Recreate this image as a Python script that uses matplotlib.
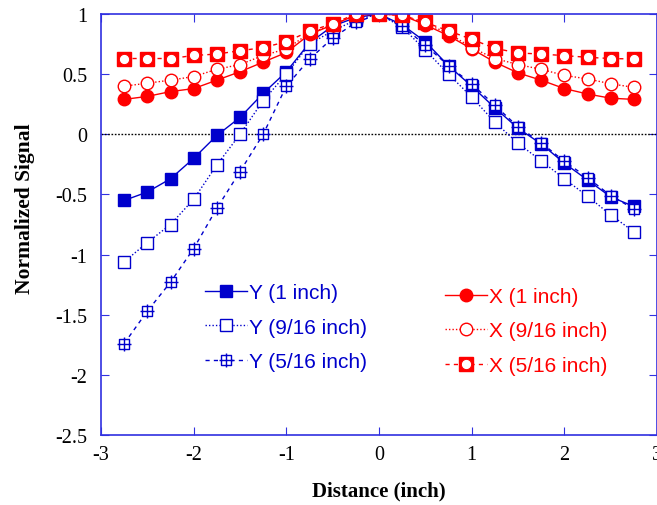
import numpy as np
import matplotlib
matplotlib.use('Agg')
import matplotlib.pyplot as plt
from matplotlib.path import Path

plt.rcParams['axes.unicode_minus'] = False

# positions along the sensor (inch)
dist = [-2.75, -2.5, -2.25, -2.0, -1.75, -1.5, -1.25, -1.0, -0.75, -0.5, -0.25, 0.0,
        0.25, 0.5, 0.75, 1.0, 1.25, 1.5, 1.75, 2.0, 2.25, 2.5, 2.75]

y_1in = [-0.55, -0.48, -0.37, -0.20, -0.01, 0.14, 0.34, 0.52, 0.76, 0.90, 0.97, 1.0,
         0.91, 0.77, 0.57, 0.40, 0.22, 0.05, -0.08, -0.24, -0.38, -0.52, -0.60]
y_9_16 = [-1.06, -0.90, -0.75, -0.54, -0.255, 0.0, 0.28, 0.50, 0.75, 0.86, 0.95, 1.0,
          0.89, 0.70, 0.50, 0.31, 0.10, -0.075, -0.22, -0.37, -0.515, -0.67, -0.81]
y_5_16 = [-1.74, -1.47, -1.23, -0.95, -0.615, -0.31, 0.0, 0.40, 0.625, 0.80, 0.93, 1.0,
          0.90, 0.74, 0.57, 0.42, 0.24, 0.063, -0.07, -0.225, -0.36, -0.51, -0.62]

x_1in = [0.29, 0.315, 0.355, 0.38, 0.45, 0.52, 0.60, 0.68, 0.83, 0.91, 0.99, 1.0,
         0.99, 0.91, 0.82, 0.71, 0.60, 0.51, 0.45, 0.38, 0.335, 0.30, 0.29]
x_9_16 = [0.40, 0.425, 0.45, 0.48, 0.54, 0.58, 0.655, 0.71, 0.84, 0.91, 0.99, 1.0,
          0.99, 0.92, 0.84, 0.72, 0.63, 0.58, 0.54, 0.49, 0.46, 0.42, 0.39]
x_5_16 = [0.63, 0.63, 0.63, 0.655, 0.667, 0.695, 0.72, 0.77, 0.856, 0.92, 1.0, 1.0,
          0.99, 0.93, 0.86, 0.79, 0.715, 0.676, 0.667, 0.654, 0.64, 0.63, 0.626]

blue = '#0000cc'
red = '#ff0000'
axcol = '#3030e0'

# square with a cross through it
verts = [(-1, -1), (1, -1), (1, 1), (-1, 1), (-1, -1),
         (0, -1.3), (0, 1.3), (-1.3, 0), (1.3, 0)]
codes = [Path.MOVETO, Path.LINETO, Path.LINETO, Path.LINETO, Path.CLOSEPOLY,
         Path.MOVETO, Path.LINETO, Path.MOVETO, Path.LINETO]
grid_sq = Path(verts, codes)

fig = plt.figure(figsize=(6.57, 5.06), dpi=100)
ax = fig.add_axes([101/657, 1 - 436/506, 556/657, 421/506])

ax.axhline(0, color='black', linestyle=(0, (1.2, 1.2)), linewidth=1)

l1, = ax.plot(dist, y_1in, '-', color=blue, lw=1, marker='s', ms=9,
              mfc=blue, mec=blue)
l2, = ax.plot(dist, y_9_16, linestyle=(0, (1, 1.5)), color=blue, lw=1, marker='s',
              ms=9, mfc='white', mec=blue, mew=1)
l3, = ax.plot(dist, y_5_16, linestyle=(0, (3, 3)), color=blue, lw=1, marker=grid_sq,
              ms=10, mfc='white', mec=blue, mew=1)

r1, = ax.plot(dist, x_1in, '-', color=red, lw=1, marker='o', ms=9,
              mfc=red, mec=red)
r2, = ax.plot(dist, x_9_16, linestyle=(0, (1, 1.5)), color=red, lw=1, marker='o',
              ms=9, mfc='white', mec=red, mew=1)
r3a, = ax.plot(dist, x_5_16, linestyle=(0, (3, 3)), color=red, lw=1, marker='s',
               ms=10, mfc=red, mec=red)
r3b, = ax.plot(dist, x_5_16, linestyle='none', marker='o', ms=7.5,
               mfc='white', mec=red, mew=0.8)

ax.set_xlim(-3, 3)
ax.set_ylim(-2.5, 1)
ax.set_xticks([-3, -2, -1, 0, 1, 2, 3])
ax.set_yticks([-2.5, -2, -1.5, -1, -0.5, 0, 0.5, 1])
ax.set_yticklabels(['-2.5', '-2', '-1.5', '-1', '-0.5', '0', '0.5', '1'])

for s in ax.spines.values():
    s.set_color(axcol)
    s.set_linewidth(1.2)
ax.tick_params(direction='in', length=6, color=axcol, top=True, right=True,
               labelsize=14.5, pad=7)
ax.tick_params(axis='y', pad=10)
for lab in ax.get_xticklabels() + ax.get_yticklabels():
    lab.set_fontfamily('Liberation Serif')

ax.set_xlabel('Distance (inch)', fontfamily='Liberation Serif', fontweight='bold',
              fontsize=15, labelpad=12)
ax.set_ylabel('Normalized Signal', fontfamily='Liberation Serif', fontweight='bold',
              fontsize=15.5)
ax.yaxis.set_label_coords(-0.118, 0.54)

leg_kw = dict(frameon=False, borderpad=0, borderaxespad=0, handlelength=2.0,
              handletextpad=0.1, labelspacing=0.75,
              prop={'family': 'Liberation Sans', 'size': 15})
leg1 = ax.legend([l1, l2, l3], ['Y (1 inch)', 'Y (9/16 inch)', 'Y (5/16 inch)'],
                 loc='upper left', bbox_to_anchor=(0.187, 0.361),
                 labelcolor=blue, **leg_kw)
ax.add_artist(leg1)
ax.legend([r1, r2, (r3a, r3b)], ['X (1 inch)', 'X (9/16 inch)', 'X (5/16 inch)'],
          loc='upper left', bbox_to_anchor=(0.619, 0.352),
          labelcolor=red, **leg_kw)

fig.savefig('out.png', dpi=100)
